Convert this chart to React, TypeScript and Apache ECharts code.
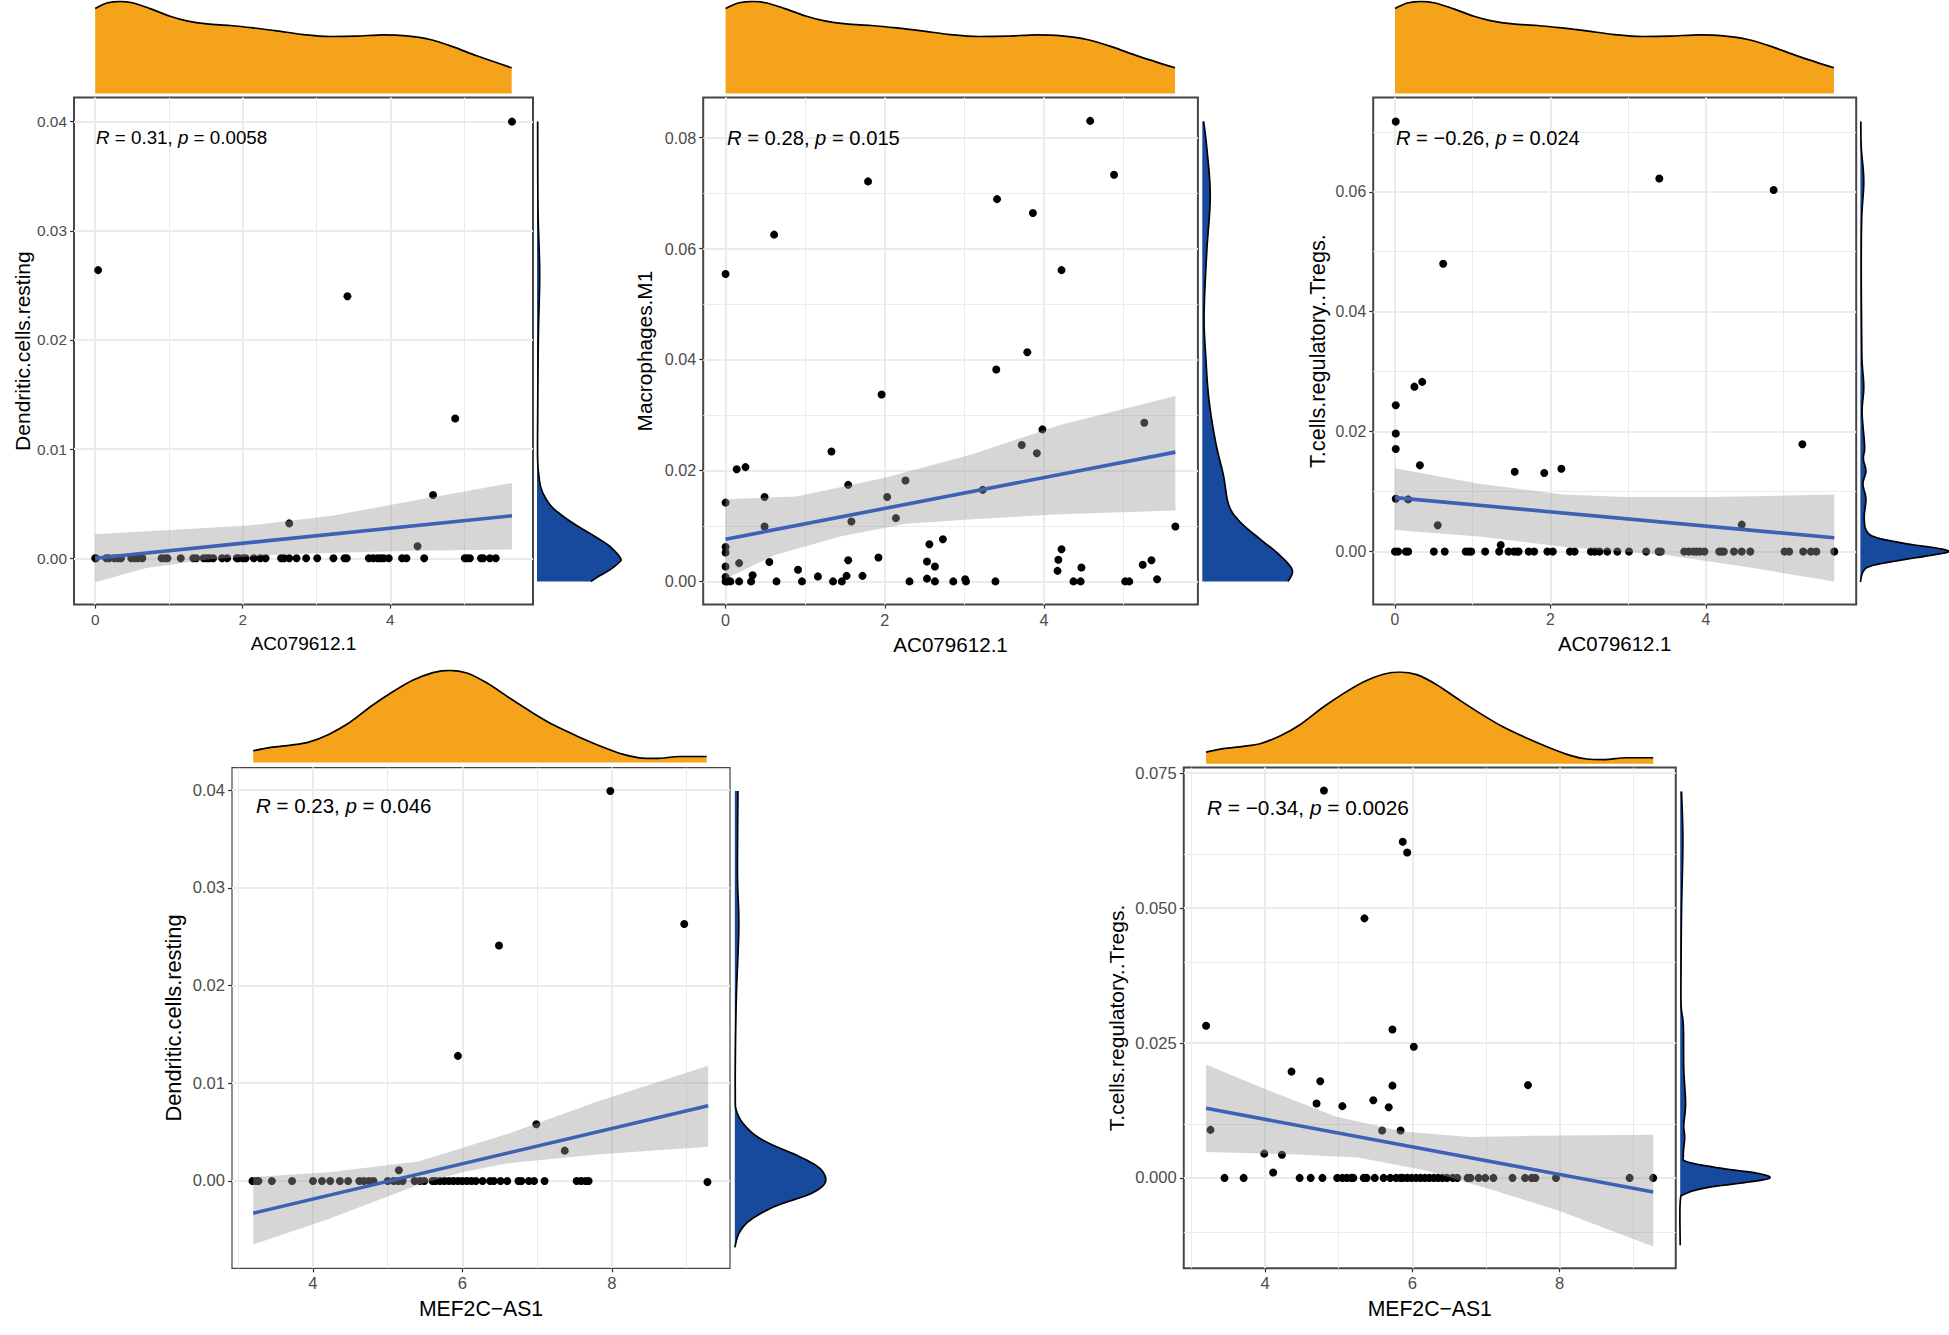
import React, { useEffect, useRef } from 'react';
import * as echarts from 'echarts';

type Pair = [number, number];

// marginal density of the two genes (relative height, peak = 1)
const acDensX = [0, 0.158, 0.339, 0.519, 0.745, 1.016, 1.242, 1.513, 1.829, 2.145, 2.462, 2.823, 3.184, 3.546, 3.907, 4.223, 4.539, 4.855, 5.172, 5.646];
const acDensY = [0.921, 0.982, 1, 0.982, 0.921, 0.838, 0.788, 0.755, 0.737, 0.711, 0.679, 0.639, 0.618, 0.622, 0.636, 0.625, 0.585, 0.505, 0.408, 0.278];
const mefDensX = [3.2, 3.434, 3.705, 3.932, 4.203, 4.475, 4.792, 5.063, 5.335, 5.606, 5.833, 6.059, 6.33, 6.647, 6.964, 7.236, 7.552, 7.869, 8.141, 8.367, 8.594, 8.91, 9.27];
const mefDensY = [0.127, 0.164, 0.189, 0.218, 0.302, 0.425, 0.618, 0.764, 0.891, 0.975, 1, 0.971, 0.862, 0.691, 0.527, 0.4, 0.28, 0.171, 0.091, 0.051, 0.044, 0.065, 0.065];

// panel 1: AC079612.1 vs Dendritic.cells.resting
const p1Zero = [0, 0.01, 0.15, 0.19, 0.26, 0.31, 0.35, 0.49, 0.54, 0.58, 0.64, 0.9, 0.95, 0.98, 1.16, 1.33, 1.37, 1.47, 1.51, 1.55, 1.6, 1.72, 1.79, 1.92, 1.94, 2.0, 2.04, 2.15, 2.24, 2.31, 2.52, 2.56, 2.63, 2.73, 2.86, 3.01, 3.23, 3.38, 3.41, 3.71, 3.77, 3.83, 3.87, 3.91, 3.98, 4.16, 4.22, 4.46, 5.01, 5.04, 5.08, 5.23, 5.26, 5.35, 5.43];
const p1Points: Pair[] = [[5.65, 0.04], [0.04, 0.0264], [3.42, 0.024], [4.88, 0.0128], [4.58, 0.0058], [2.63, 0.0032], [4.37, 0.0011]];
const p1Upper: Pair[] = [[0, 0.0022], [2.08, 0.003], [3.21, 0.0039], [4.33, 0.0053], [5.65, 0.0069]];
const p1Lower: Pair[] = [[0, -0.0022], [0.68, -0.0009], [1.52, -0.0001], [2.65, 0.0004], [4.33, 0.0007], [5.65, 0.0008]];
const p1Fit: Pair[] = [[0, 0], [5.65, 0.0039]];
const p1RightY = [0.04, 0.0319, 0.0261, 0.0203, 0.0126, 0.00902, 0.00749, 0.00657, 0.00566, 0.00474, 0.00383, 0.00291, 0.002, 0.00108, 0, -0.00044, -0.00105, -0.00167, -0.00212];
const p1RightD = [2, 3, 8, 4, 2, 2, 6, 11, 23, 44, 79, 124, 174, 219, 251, 244, 219, 184, 162];

// panel 2: AC079612.1 vs Macrophages.M1
const p2Zero = [0, 0.02, 0.06, 0.17, 0.32, 0.64, 0.96, 1.35, 1.46, 2.31, 2.63, 2.86, 3.02, 3.39, 4.37, 4.46, 5.02, 5.07];
const p2Points: Pair[] = [[4.58, 0.083], [4.88, 0.0733], [1.79, 0.0721], [3.41, 0.0689], [3.86, 0.0664], [0.61, 0.0625], [0, 0.0554], [4.22, 0.0561], [3.79, 0.0413], [3.4, 0.0382], [1.96, 0.0337], [5.26, 0.0286], [3.98, 0.0274], [3.72, 0.0246], [3.91, 0.0231], [1.33, 0.0234], [0.25, 0.0206], [0.14, 0.0202], [1.54, 0.0174], [2.26, 0.0182], [3.23, 0.0165], [0.49, 0.0152], [2.03, 0.0152], [0, 0.0142], [1.58, 0.0108], [2.14, 0.0114], [0.49, 0.0099], [5.65, 0.0099], [2.73, 0.0076], [2.56, 0.0067], [0, 0.0062], [0, 0.0052], [4.22, 0.0058], [0.17, 0.0033], [0.55, 0.0035], [1.54, 0.0038], [1.92, 0.0043], [2.53, 0.0036], [2.63, 0.0027], [4.18, 0.0039], [5.35, 0.0038], [5.24, 0.003], [0, 0.0027], [0.91, 0.0021], [4.17, 0.0019], [4.47, 0.0025], [0.34, 0.0011], [0, 0.0008], [1.16, 0.0009], [1.52, 0.001], [1.72, 0.001], [2.53, 0.0005], [3.01, 0.0004], [5.42, 0.0004]];
const p2Upper: Pair[] = [[0, 0.0148], [0.89, 0.0153], [2, 0.0187], [3.1, 0.0229], [4.2, 0.0282], [5.65, 0.0334]];
const p2Lower: Pair[] = [[0, 0.0005], [0.61, 0.0047], [1.44, 0.0081], [2.27, 0.0104], [3.1, 0.0112], [4.2, 0.0121], [5.65, 0.0128]];
const p2Fit: Pair[] = [[0, 0.0076], [5.65, 0.0233]];
const p2RightY = [0.0829, 0.0783, 0.0695, 0.0593, 0.0479, 0.0403, 0.0328, 0.0252, 0.0191, 0.0138, 0.0108, 0.0077, 0.0055, 0.0032, 0.0017, 0];
const p2RightD = [3, 10, 18, 10, 4, 8, 15, 30, 48, 60, 85, 130, 165, 195, 205, 195];

// panel 3: AC079612.1 vs T.cells.regulatory..Tregs.
const p3Zero = [0, 0.04, 0.14, 0.17, 0.5, 0.64, 0.91, 0.95, 0.98, 1.16, 1.34, 1.46, 1.53, 1.57, 1.59, 1.72, 1.79, 1.96, 2.03, 2.25, 2.31, 2.52, 2.57, 2.63, 2.73, 2.86, 3.01, 3.23, 3.39, 3.42, 3.72, 3.78, 3.84, 3.88, 3.92, 3.98, 4.17, 4.2, 4.23, 4.36, 4.46, 4.57, 5.01, 5.07, 5.25, 5.35, 5.42, 5.65];
const p3Points: Pair[] = [[0.01, 0.0717], [3.4, 0.0622], [4.87, 0.0603], [0.62, 0.048], [0.35, 0.0283], [0.25, 0.0275], [0.01, 0.0244], [0.01, 0.0197], [0.01, 0.0171], [5.24, 0.0179], [0.32, 0.0144], [1.54, 0.0133], [1.92, 0.0131], [2.14, 0.0138], [0.01, 0.0088], [0.17, 0.0087], [0.55, 0.0044], [4.46, 0.0045], [1.36, 0.0011]];
const p3Upper: Pair[] = [[0, 0.0139], [1.08, 0.0113], [2.16, 0.0095], [2.97, 0.0091], [4.05, 0.0091], [5.65, 0.0095]];
const p3Lower: Pair[] = [[0, 0.0036], [1.08, 0.0025], [2.16, 0.0008], [3.51, -0.0006], [4.59, -0.0027], [5.65, -0.005]];
const p3Fit: Pair[] = [[0, 0.009], [5.65, 0.0023]];
const p3RightY = [0.0717, 0.0674, 0.0618, 0.0555, 0.0464, 0.0359, 0.0316, 0.0274, 0.0232, 0.0176, 0.0155, 0.0134, 0.0113, 0.0088, 0.0057, 0.0034, 0.0023, 0.0013, 0.0006, 0, -0.0006, -0.0015, -0.0024, -0.0034, -0.0051];
const p3RightD = [1, 2, 8, 3, 2, 3, 4, 8, 4, 10, 7, 13, 6, 13, 9, 15, 40, 110, 180, 210, 170, 90, 25, 6, 0];

// panel 4: MEF2C-AS1 vs Dendritic.cells.resting
const p4Zero = [3.19, 3.24, 3.27, 3.45, 3.72, 4.0, 4.12, 4.23, 4.36, 4.47, 4.62, 4.68, 4.75, 4.81, 5.0, 5.08, 5.14, 5.2, 5.36, 5.43, 5.49, 5.6, 5.64, 5.7, 5.76, 5.82, 5.88, 5.94, 6.0, 6.06, 6.12, 6.18, 6.27, 6.37, 6.42, 6.51, 6.6, 6.75, 6.79, 6.89, 6.96, 7.1, 7.53, 7.59, 7.65, 7.69];
const p4Points: Pair[] = [[7.98, 0.0399], [8.97, 0.0263], [6.49, 0.0241], [5.94, 0.0128], [6.99, 0.0058], [7.37, 0.0031], [5.15, 0.0011], [9.28, -0.0001]];
const p4Upper: Pair[] = [[3.2, 0.0004], [4.21, 0.0009], [5.41, 0.002], [6.6, 0.0048], [7.8, 0.0081], [9.29, 0.0118]];
const p4Lower: Pair[] = [[3.2, -0.0065], [4.21, -0.0039], [5.41, -0.0004], [6.0, 0.0009], [6.6, 0.0018], [7.8, 0.0027], [9.29, 0.0035]];
const p4Fit: Pair[] = [[3.2, -0.0033], [9.29, 0.0077]];
const p4RightY = [0.0399, 0.0313, 0.026, 0.0181, 0.0093, 0.007, 0.0053, 0.004, 0.0026, 0.0013, -0.0001, -0.0013, -0.0026, -0.004, -0.0053, -0.0068];
const p4RightD = [7, 6, 9, 3, 1, 5, 30, 70, 140, 190, 203, 170, 90, 35, 10, 0];

// panel 5: MEF2C-AS1 vs T.cells.regulatory..Tregs.
const p5Zero = [3.45, 3.71, 4.47, 4.62, 4.78, 4.98, 5.05, 5.11, 5.17, 5.2, 5.34, 5.38, 5.49, 5.61, 5.7, 5.78, 5.84, 5.87, 5.93, 5.99, 6.05, 6.11, 6.17, 6.23, 6.29, 6.35, 6.41, 6.47, 6.55, 6.61, 6.75, 6.79, 6.9, 6.99, 7.1, 7.36, 7.53, 7.62, 7.67, 7.95, 8.95, 9.27];
const p5Points: Pair[] = [[4.8, 0.0718], [5.87, 0.0623], [5.93, 0.0603], [5.35, 0.0481], [3.2, 0.0282], [5.73, 0.0275], [6.02, 0.0243], [4.36, 0.0197], [4.75, 0.0179], [5.73, 0.0171], [7.57, 0.0172], [4.7, 0.0138], [5.05, 0.0133], [5.47, 0.0144], [5.68, 0.0131], [3.26, 0.0089], [5.59, 0.0088], [5.84, 0.0088], [3.99, 0.0045], [4.23, 0.0043], [4.11, 0.001]];
const p5Upper: Pair[] = [[3.2, 0.021], [4.05, 0.0162], [4.96, 0.0114], [5.87, 0.0086], [6.78, 0.0076], [7.68, 0.0078], [9.27, 0.008]];
const p5Lower: Pair[] = [[3.2, 0.0048], [4.35, 0.0044], [5.26, 0.0038], [6.17, 0.0014], [7.08, -0.0022], [7.99, -0.0061], [9.27, -0.0127]];
const p5Fit: Pair[] = [[3.2, 0.0129], [9.27, -0.0026]];
const p5RightY = [0.0716, 0.0625, 0.0497, 0.0401, 0.0321, 0.0282, 0.0202, 0.0138, 0.0098, 0.0074, 0.0042, 0.003, 0.0018, 0.0009, 0, -0.0008, -0.0018, -0.003, -0.0045, -0.0125];
const p5RightD = [3, 6, 3, 2, 2, 7, 8, 12, 8, 10, 7, 15, 90, 170, 201, 150, 60, 10, 0, 0];

const acTicks = [0, 2, 4];
const acMinor = [1, 3, 5];
const mefTicks = [4, 6, 8];
const mefMinor = [3, 5, 7, 9];

const panels = [
  {
    xName: 'AC079612.1', yName: 'Dendritic.cells.resting', note: '{i|R} = 0.31, {i|p} = 0.0058',
    zero: p1Zero, points: p1Points, upper: p1Upper, lower: p1Lower, fit: p1Fit, rightY: p1RightY, rightD: p1RightD,
    densX: acDensX, densY: acDensY, xTicks: acTicks, xMinor: acMinor,
    yTicks: [0, 0.01, 0.02, 0.03, 0.04], yMinor: [0.005, 0.015, 0.025, 0.035], yDigits: 2,
    xRange: [-0.287, 5.935], yRange: [-0.00424, 0.0422],
    box: { left: 74, top: 97.6, width: 459, height: 507 }, topBox: { top: 1.3, height: 92.1 }, rightBox: { left: 537, width: 83.6 },
    noteAt: [96, 137.6], noteSize: 18.8, tickSize: 15.4, titleSize: 19, yTitleSize: 21, yGap: 41, xGap: 29, frame: 2,
  },
  {
    xName: 'AC079612.1', yName: 'Macrophages.M1', note: '{i|R} = 0.28, {i|p} = 0.015',
    zero: p2Zero, points: p2Points, upper: p2Upper, lower: p2Lower, fit: p2Fit, rightY: p2RightY, rightD: p2RightD,
    densX: acDensX, densY: acDensY, xTicks: acTicks, xMinor: acMinor,
    yTicks: [0, 0.02, 0.04, 0.06, 0.08], yMinor: [0.01, 0.03, 0.05, 0.07], yDigits: 2,
    xRange: [-0.281, 5.933], yRange: [-0.00418, 0.0872],
    box: { left: 703.2, top: 97.6, width: 494.7, height: 507 }, topBox: { top: 1.3, height: 92.1 }, rightBox: { left: 1202.3, width: 90.2 },
    noteAt: [727, 137.6], noteSize: 20.2, tickSize: 16.2, titleSize: 20.6, yTitleSize: 20.8, yGap: 48, xGap: 29, frame: 2,
  },
  {
    xName: 'AC079612.1', yName: 'T.cells.regulatory..Tregs.', note: '{i|R} = \u22120.26, {i|p} = 0.024',
    zero: p3Zero, points: p3Points, upper: p3Upper, lower: p3Lower, fit: p3Fit, rightY: p3RightY, rightD: p3RightD,
    densX: acDensX, densY: acDensY, xTicks: acTicks, xMinor: acMinor,
    yTicks: [0, 0.02, 0.04, 0.06], yMinor: [0.01, 0.03, 0.05, 0.07], yDigits: 2,
    xRange: [-0.28, 5.932], yRange: [-0.00884, 0.0757],
    box: { left: 1373.2, top: 97.6, width: 483, height: 507 }, topBox: { top: 1.3, height: 92.1 }, rightBox: { left: 1860.4, width: 88.3 },
    noteAt: [1396, 137.6], noteSize: 20.1, tickSize: 15.8, titleSize: 20.4, yTitleSize: 21.7, yGap: 45, xGap: 29, frame: 2,
  },
  {
    xName: 'MEF2C\u2212AS1', yName: 'Dendritic.cells.resting', note: '{i|R} = 0.23, {i|p} = 0.046',
    zero: p4Zero, points: p4Points, upper: p4Upper, lower: p4Lower, fit: p4Fit, rightY: p4RightY, rightD: p4RightD,
    densX: mefDensX, densY: mefDensY, xTicks: mefTicks, xMinor: mefMinor,
    yTicks: [0, 0.01, 0.02, 0.03, 0.04], yMinor: [-0.005, 0.005, 0.015, 0.025, 0.035], yDigits: 2,
    xRange: [2.916, 9.582], yRange: [-0.00894, 0.0423],
    box: { left: 232, top: 767.6, width: 498, height: 500.7 }, topBox: { top: 670.3, height: 92.2 }, rightBox: { left: 734.8, width: 90.6 },
    noteAt: [256, 805.5], noteSize: 20.5, tickSize: 16.6, titleSize: 21.2, yTitleSize: 21.8, yGap: 48, xGap: 30, frame: 1.2,
  },
  {
    xName: 'MEF2C\u2212AS1', yName: 'T.cells.regulatory..Tregs.', note: '{i|R} = \u22120.34, {i|p} = 0.0026',
    zero: p5Zero, points: p5Points, upper: p5Upper, lower: p5Lower, fit: p5Fit, rightY: p5RightY, rightD: p5RightD,
    densX: mefDensX, densY: mefDensY, xTicks: mefTicks, xMinor: mefMinor,
    yTicks: [0, 0.025, 0.05, 0.075], yMinor: [-0.0125, 0.0125, 0.0375, 0.0625], yDigits: 3,
    xRange: [2.897, 9.576], yRange: [-0.01675, 0.07604],
    box: { left: 1183.75, top: 767.6, width: 492, height: 500.7 }, topBox: { top: 672, height: 91.7 }, rightBox: { left: 1680.2, width: 89.7 },
    noteAt: [1207, 807.2], noteSize: 20.8, tickSize: 16.6, titleSize: 21.2, yTitleSize: 21, yGap: 57, xGap: 30, frame: 2,
  },
];

const FONT = '"Liberation Sans", Arial, sans-serif';
const ORANGE = '#F5A31A';
const NAVY = '#174A9C';
const FIT = '#3B62B5';
const GRID = '#ebebeb';

const ribbonItem = (upper: Pair[], lower: Pair[]) => (params: any, api: any) => {
  if (params.dataIndex !== 0) return null;
  const outline = upper.concat([...lower].reverse());
  return {
    type: 'polygon',
    shape: { points: outline.map((p) => api.coord(p)) },
    style: { fill: 'rgba(153,153,153,0.4)' },
  };
};

// catmull-rom through the screen points, fill and outline then share one curve
const smoothScreen = (pts: number[][]) => {
  const out: number[][] = [];
  for (let i = 0; i < pts.length - 1; i++) {
    const p0 = pts[Math.max(i - 1, 0)];
    const p1 = pts[i];
    const p2 = pts[i + 1];
    const p3 = pts[Math.min(i + 2, pts.length - 1)];
    for (let s = 0; s < 8; s++) {
      const t = s / 8;
      const f = (a: number, b: number, c: number, d: number) =>
        0.5 * (2 * b + (c - a) * t + (2 * a - 5 * b + 4 * c - d) * t * t + (3 * b - a - 3 * c + d) * t * t * t);
      out.push([f(p0[0], p1[0], p2[0], p3[0]), f(p0[1], p1[1], p2[1], p3[1])]);
    }
  }
  out.push(pts[pts.length - 1]);
  return out;
};

// horizontal density: fill runs back to the axis on the left
const rightDensityItem = (ys: number[], ds: number[]) => (params: any, api: any) => {
  if (params.dataIndex !== 0) return null;
  const curve = smoothScreen(ys.map((y, i) => api.coord([ds[i], y])));
  const last = ys.length - 1;
  return {
    type: 'group',
    children: [
      {
        type: 'polygon',
        shape: { points: [...curve, api.coord([0, ys[last]]), api.coord([0, ys[0]])] },
        style: { fill: NAVY },
      },
      {
        type: 'polyline',
        shape: { points: curve },
        style: { fill: 'none', stroke: '#000', lineWidth: 1.7 },
      },
    ],
  };
};

const buildOption = () => {
  const grid: any[] = [];
  const xAxis: any[] = [];
  const yAxis: any[] = [];
  const series: any[] = [];
  const graphic: any[] = [];

  panels.forEach((p) => {
    const main = grid.length;
    const top = main + 1;
    const right = main + 2;

    grid.push({
      ...p.box,
      show: true,
      backgroundColor: '#fff',
      borderColor: '#454545',
      borderWidth: p.frame,
    });
    grid.push({ left: p.box.left, width: p.box.width, ...p.topBox });
    grid.push({ top: p.box.top, height: p.box.height, ...p.rightBox });

    xAxis.push({
      type: 'value',
      gridIndex: main,
      min: p.xRange[0],
      max: p.xRange[1],
      name: p.xName,
      nameLocation: 'middle',
      nameGap: p.xGap,
      nameTextStyle: { fontFamily: FONT, fontSize: p.titleSize, color: '#000' },
      axisLine: { show: false, onZero: false },
      axisTick: { show: true, length: 4, customValues: p.xTicks, lineStyle: { color: '#333', width: 1.2 } },
      axisLabel: {
        customValues: p.xTicks,
        margin: 7,
        fontFamily: FONT,
        fontSize: p.tickSize,
        color: '#4d4d4d',
        formatter: (v: number) => String(v),
      },
      splitLine: { show: true, lineStyle: { color: GRID, width: 2 } },
    });
    yAxis.push({
      type: 'value',
      gridIndex: main,
      min: p.yRange[0],
      max: p.yRange[1],
      name: p.yName,
      nameLocation: 'middle',
      nameGap: p.yGap,
      nameTextStyle: { fontFamily: FONT, fontSize: p.yTitleSize, color: '#000' },
      axisLine: { show: false, onZero: false },
      axisTick: { show: true, length: 4, customValues: p.yTicks, lineStyle: { color: '#333', width: 1.2 } },
      axisLabel: {
        customValues: p.yTicks,
        margin: 7,
        fontFamily: FONT,
        fontSize: p.tickSize,
        color: '#4d4d4d',
        formatter: (v: number) => v.toFixed(p.yDigits),
      },
      splitLine: { show: true, lineStyle: { color: GRID, width: 2 } },
    });

    // top marginal
    xAxis.push({ type: 'value', gridIndex: top, min: p.xRange[0], max: p.xRange[1], show: false });
    yAxis.push({ type: 'value', gridIndex: top, min: 0, max: 1, show: false });
    // right marginal
    const rightMax = Math.max(...p.rightD);
    xAxis.push({ type: 'value', gridIndex: right, min: 0, max: rightMax, show: false });
    yAxis.push({ type: 'value', gridIndex: right, min: p.yRange[0], max: p.yRange[1], show: false });

    series.push({
      type: 'scatter',
      xAxisIndex: main,
      yAxisIndex: main,
      symbolSize: 8,
      itemStyle: { color: '#000', opacity: 1 },
      z: 2,
      data: [...p.zero.map((x) => [x, 0]), ...p.points],
      markLine: {
        silent: true,
        symbol: 'none',
        z: 1,
        label: { show: false },
        lineStyle: { color: GRID, width: 1, type: 'solid' },
        data: [...p.xMinor.map((v) => ({ xAxis: v })), ...p.yMinor.map((v) => ({ yAxis: v }))],
      },
    });
    series.push({
      type: 'custom',
      xAxisIndex: main,
      yAxisIndex: main,
      z: 3,
      renderItem: ribbonItem(p.upper, p.lower),
      data: p.upper,
    });
    series.push({
      type: 'line',
      xAxisIndex: main,
      yAxisIndex: main,
      z: 4,
      symbol: 'none',
      lineStyle: { color: FIT, width: 3.6 },
      data: p.fit,
    });
    series.push({
      type: 'line',
      xAxisIndex: top,
      yAxisIndex: top,
      symbol: 'none',
      smooth: 0.3,
      lineStyle: { color: '#000', width: 1.7 },
      areaStyle: { color: ORANGE, opacity: 1, origin: 'start' },
      data: p.densX.map((x, i) => [x, p.densY[i]]),
    });
    series.push({
      type: 'custom',
      xAxisIndex: right,
      yAxisIndex: right,
      renderItem: rightDensityItem(p.rightY, p.rightD),
      data: p.rightY.map((y, i) => [p.rightD[i], y]),
    });

    const noteStyle = { fontFamily: FONT, fontSize: p.noteSize, fill: '#000' };
    graphic.push({
      type: 'text',
      x: p.noteAt[0],
      y: p.noteAt[1],
      z: 10,
      style: {
        ...noteStyle,
        text: p.note,
        verticalAlign: 'middle',
        rich: { i: { ...noteStyle, fontStyle: 'italic' } },
      },
    });
  });

  return { animation: false, backgroundColor: '#fff', grid, xAxis, yAxis, series, graphic };
};

const App: React.FC = () => {
  const chartRef = useRef<HTMLDivElement>(null);

  useEffect(() => {
    if (!chartRef.current) return;
    const chart = echarts.init(chartRef.current, undefined, { renderer: 'svg' });
    chart.setOption(buildOption() as any);
    return () => {
      chart.dispose();
    };
  }, []);

  return <div ref={chartRef} style={{ position: 'absolute', left: 0, top: 0, width: 1949, height: 1335 }} />;
};

export default App;
